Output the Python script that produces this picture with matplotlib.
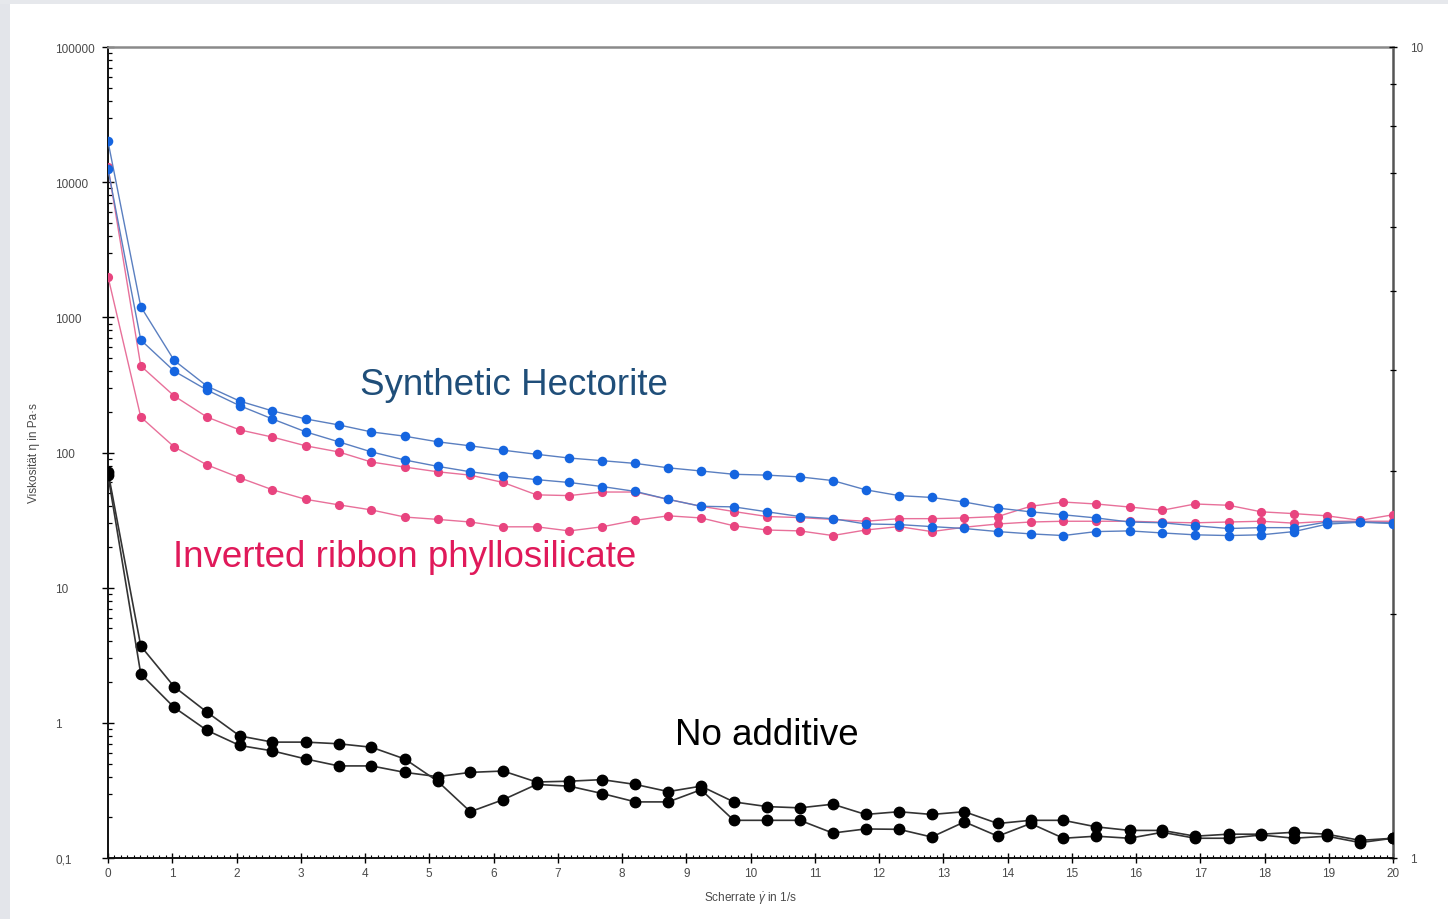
import numpy as np
import matplotlib
matplotlib.use("Agg")
import matplotlib.pyplot as plt
from matplotlib.ticker import LogLocator, FixedLocator, NullFormatter, MultipleLocator
from matplotlib.patches import Rectangle

plt.rcParams['font.family'] = ['Liberation Sans', 'DejaVu Sans']
plt.rcParams['mathtext.fontset'] = 'custom'
plt.rcParams['mathtext.rm'] = 'Liberation Sans'
plt.rcParams['mathtext.it'] = 'Liberation Sans:italic'

# ---- data ----
shear_rate = [0.00, 0.51, 1.03, 1.54, 2.05, 2.56, 3.08, 3.59, 4.10, 4.62,
              5.13, 5.64, 6.15, 6.67, 7.18, 7.69, 8.21, 8.72, 9.23, 9.74,
              10.26, 10.77, 11.28, 11.79, 12.31, 12.82, 13.33, 13.85, 14.36, 14.87,
              15.38, 15.90, 16.41, 16.92, 17.44, 17.95, 18.46, 18.97, 19.49, 20.00]

hectorite_a = [20000, 1200, 480, 310, 240, 203, 177, 160, 142, 132,
               120, 112, 104, 97, 91, 87, 83, 77, 73, 69,
               68, 66, 62, 53, 48, 46.5, 43, 38.8, 36.4, 34.6,
               32.8, 30.6, 30.2, 28.7, 27.4, 27.8, 27.8, 30.6, 30.6, 30.2]
hectorite_b = [12500, 680, 400, 290, 222, 177, 142, 120, 101, 88,
               79, 72, 67, 63, 60, 56, 51.5, 45, 40, 39.6,
               36.4, 33.6, 32.4, 29.6, 29.3, 28.3, 27.4, 26, 25, 24.3,
               26, 26.3, 25.4, 24.6, 24.3, 24.6, 26, 29.5, 30.5, 29.8]
ribbon_a = [13000, 437, 262, 183, 147, 130, 112, 101, 85, 78,
            72, 68, 60, 48.6, 48, 51, 51, 45, 40, 36.6,
            33.6, 33, 32, 31, 32.4, 32.4, 32.8, 33.6, 40, 43,
            41.6, 39.5, 37.4, 41.6, 40.7, 36.4, 35.3, 34, 31.5, 34.6]
ribbon_b = [2000, 183, 110, 81, 65, 53, 45, 41, 37.6, 33.3,
            32, 30.6, 28.2, 28.2, 26.3, 28.2, 31.5, 34, 32.8, 28.7,
            26.7, 26.3, 24.3, 26.7, 28.3, 26, 28, 29.6, 30.6, 31,
            31, 31, 30.5, 30.2, 30.6, 31, 30, 31, 31, 31]
none_a = [72, 3.7, 1.85, 1.2, 0.8, 0.72, 0.72, 0.7, 0.66, 0.54,
          0.37, 0.22, 0.27, 0.35, 0.34, 0.30, 0.26, 0.26, 0.32, 0.19,
          0.19, 0.19, 0.153, 0.164, 0.163, 0.143, 0.185, 0.145, 0.18, 0.14,
          0.145, 0.14, 0.155, 0.14, 0.14, 0.148, 0.14, 0.145, 0.13, 0.14]
none_b = [68, 2.3, 1.3, 0.88, 0.68, 0.62, 0.54, 0.48, 0.48, 0.43,
          0.40, 0.43, 0.44, 0.365, 0.37, 0.38, 0.35, 0.31, 0.34, 0.26,
          0.24, 0.235, 0.25, 0.21, 0.22, 0.21, 0.22, 0.18, 0.19, 0.19,
          0.17, 0.16, 0.16, 0.145, 0.15, 0.15, 0.155, 0.15, 0.135, 0.14]

y_tick_values = [0.1, 1, 10, 100, 1000, 10000, 100000]
y_tick_labels = ['0,1', '1', '10', '100', '1000', '10000', '100000']
x_tick_values = list(range(0, 21))
right_tick_values = [1, 10]
right_tick_labels = ['1', '10']

W, H, DPI = 1448, 920, 100
fig = plt.figure(figsize=(W / DPI, H / DPI), dpi=DPI, facecolor='white')

# slide-like background strips
fig.patches.append(Rectangle((0, 0), 10 / W, 1, transform=fig.transFigure,
                             facecolor='#e3e5ea', edgecolor='none', zorder=0))
fig.patches.append(Rectangle((0, 1 - 5 / H), 1, 5 / H, transform=fig.transFigure,
                             facecolor='#e6e8ec', edgecolor='none', zorder=0))

ax = fig.add_axes([108 / W, (H - 859) / H, (1393 - 108) / W, (859 - 48) / H])
ax.set_yscale('log')
ax.set_xlim(0, 20)
ax.set_ylim(0.1, 100000)

blue_line = '#5a7fc0'
blue_mark = '#1565e0'
pink_line = '#e8709a'
pink_mark = '#e8447f'

for series in (ribbon_a, ribbon_b):
    ax.plot(shear_rate, series, '-', color=pink_line, lw=1.0, zorder=3)
    ax.plot(shear_rate, series, 'o', color=pink_mark, ms=6.6, mec='none', zorder=4)
for series in (hectorite_a, hectorite_b):
    ax.plot(shear_rate, series, '-', color=blue_line, lw=1.0, zorder=5)
    ax.plot(shear_rate, series, 'o', color=blue_mark, ms=6.9, mec='none', zorder=6)
for series in (none_a, none_b):
    ax.plot(shear_rate, series, '-', color='#333333', lw=1.2, zorder=5,
            marker='o', ms=7.5, mfc='black', mec='black')

# annotations
ax.text(3.92, 321, 'Synthetic Hectorite', color='#1f4e79', fontsize=26.5,
        va='center', ha='left', zorder=10)
ax.text(1.01, 17.1, 'Inverted ribbon phyllosilicate', color='#e0195a', fontsize=26.5,
        va='center', ha='left', zorder=10)
ax.text(8.82, 0.826, 'No additive', color='black', fontsize=26.5,
        va='center', ha='left', zorder=10)

# spines
ax.spines['left'].set_color('#111111')
ax.spines['left'].set_linewidth(1.4)
ax.spines['bottom'].set_color('#111111')
ax.spines['bottom'].set_linewidth(1.4)
ax.spines['top'].set_color('#8a8a8a')
ax.spines['top'].set_linewidth(1.8)
ax.spines['right'].set_color('#555555')
ax.spines['right'].set_linewidth(1.8)

label_color = '#4a4a4a'
# y axis ticks
ax.yaxis.set_major_locator(FixedLocator(y_tick_values))
ax.set_yticklabels(y_tick_labels)
ax.yaxis.set_minor_locator(LogLocator(base=10, subs=np.arange(2, 10)))
ax.yaxis.set_minor_formatter(NullFormatter())
ax.tick_params(axis='y', which='major', direction='inout', length=9, width=1.0,
               labelsize=8.5, labelcolor=label_color, pad=33.5)
ax.tick_params(axis='y', which='minor', direction='in', length=3, width=0.9)
for lab in ax.get_yticklabels():
    lab.set_ha('left')

# x axis ticks
ax.set_xticks(x_tick_values)
ax.xaxis.set_minor_locator(MultipleLocator(0.1))
ax.tick_params(axis='x', which='major', direction='inout', length=7, width=1.0,
               labelsize=8.5, labelcolor=label_color, pad=3)
ax.tick_params(axis='x', which='minor', direction='in', length=2.5, width=0.8)

ax.set_xlabel(r'Scherrate $\dot{\gamma}$ in 1/s', fontsize=8.5, color=label_color, labelpad=8)
ax.set_ylabel('Viskosität η in Pa·s', fontsize=8.5, color=label_color)
ax.yaxis.set_label_coords((40 - 108) / (1393 - 108), 0.5)

# right axis
ax2 = ax.twinx()
ax2.set_yscale('log')
ax2.set_ylim(1, 10)
ax2.yaxis.set_major_locator(FixedLocator(right_tick_values))
ax2.set_yticklabels(right_tick_labels)
ax2.yaxis.set_minor_locator(LogLocator(base=10, subs=np.arange(2, 10)))
ax2.yaxis.set_minor_formatter(NullFormatter())
ax2.tick_params(axis='y', which='major', direction='inout', length=6, width=1.0,
                labelsize=8.5, labelcolor=label_color, pad=9)
ax2.tick_params(axis='y', which='minor', direction='inout', length=4, width=0.9)
for sp in ax2.spines.values():
    sp.set_visible(False)

fig.savefig('out.png', dpi=DPI, facecolor=fig.get_facecolor())
